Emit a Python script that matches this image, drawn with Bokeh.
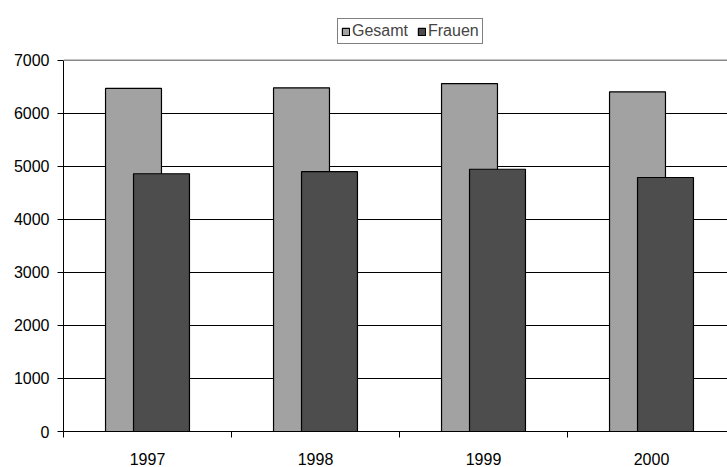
from bokeh.plotting import figure
from bokeh.models import ColumnDataSource, FixedTicker, Range1d, Legend, LegendItem, Span
from bokeh.transform import dodge
from bokeh.embed import file_html
from bokeh.resources import INLINE

years = ["1997", "1998", "1999", "2000"]
gesamt = [6470, 6480, 6560, 6405]
frauen = [4860, 4900, 4945, 4790]
y_ticks = [0, 1000, 2000, 3000, 4000, 5000, 6000, 7000]

FONT = "Liberation Sans"
pos = [i + 0.5 for i in range(len(years))]
src = ColumnDataSource(dict(x=pos, gesamt=gesamt, frauen=frauen))

# frame: x 63..727, y 14..433 (value 7000 at y=60)
y_top = 7000 * (433 - 14) / (433 - 60)
p = figure(width=727, height=467, output_backend="svg", toolbar_location=None,
           x_range=Range1d(0, 664 / 168), y_range=Range1d(0, y_top),
           min_border_left=63, min_border_right=0, min_border_top=14, min_border_bottom=34)
p.outline_line_color = None
p.background_fill_color = "white"
p.border_fill_color = "white"

r1 = p.vbar(x=dodge("x", -0.0833, range=p.x_range), top="gesamt", width=0.333, source=src,
            fill_color="#A2A2A2", line_color="black", line_width=1.2)
r2 = p.vbar(x=dodge("x", 0.0833, range=p.x_range), top="frauen", width=0.333, source=src,
            fill_color="#4D4D4D", line_color="black", line_width=1.2)

# grid
p.xgrid.visible = False
p.ygrid.ticker = FixedTicker(ticks=y_ticks[1:-1])
p.ygrid.grid_line_color = "black"
p.ygrid.grid_line_width = 1
p.add_layout(Span(location=7000, dimension="width", line_color="#8a8a8a", line_width=1.5))

# y axis
p.yaxis.ticker = FixedTicker(ticks=y_ticks)
p.yaxis.bounds = (0, 7000)
p.yaxis.axis_line_color = "black"
p.yaxis.major_tick_out = 6
p.yaxis.major_tick_in = 0
p.yaxis.minor_tick_line_color = None
p.yaxis.major_label_standoff = 8
p.yaxis.major_label_text_font = FONT
p.yaxis.major_label_text_font_size = "16px"
p.yaxis.major_label_text_color = "black"

# x axis: labels at category centers, ticks at boundaries
p.xaxis.ticker = FixedTicker(ticks=pos, minor_ticks=[float(i) for i in range(len(years))])
p.xaxis.major_label_overrides = {pv: y for pv, y in zip(pos, years)}
p.xaxis.major_tick_out = 0
p.xaxis.major_tick_in = 0
p.xaxis.minor_tick_out = 6
p.xaxis.minor_tick_in = 0
p.xaxis.minor_tick_line_color = "black"
p.xaxis.axis_line_color = "black"
p.xaxis.major_label_standoff = 15
p.xaxis.major_label_text_font = FONT
p.xaxis.major_label_text_font_size = "16px"
p.xaxis.major_label_text_color = "black"

legend = Legend(items=[LegendItem(label="Gesamt", renderers=[r1]),
                       LegendItem(label="Frauen", renderers=[r2])],
                orientation="horizontal", location=(274, 387),
                label_text_font=FONT, label_text_font_size="16px",
                glyph_width=9, glyph_height=9, label_standoff=2, spacing=9,
                padding=3, margin=0, border_line_color="black", border_line_width=1.3,
                label_height=15, background_fill_alpha=1)
p.add_layout(legend, "center")

open("out.html", "w").write(file_html(p, INLINE))
